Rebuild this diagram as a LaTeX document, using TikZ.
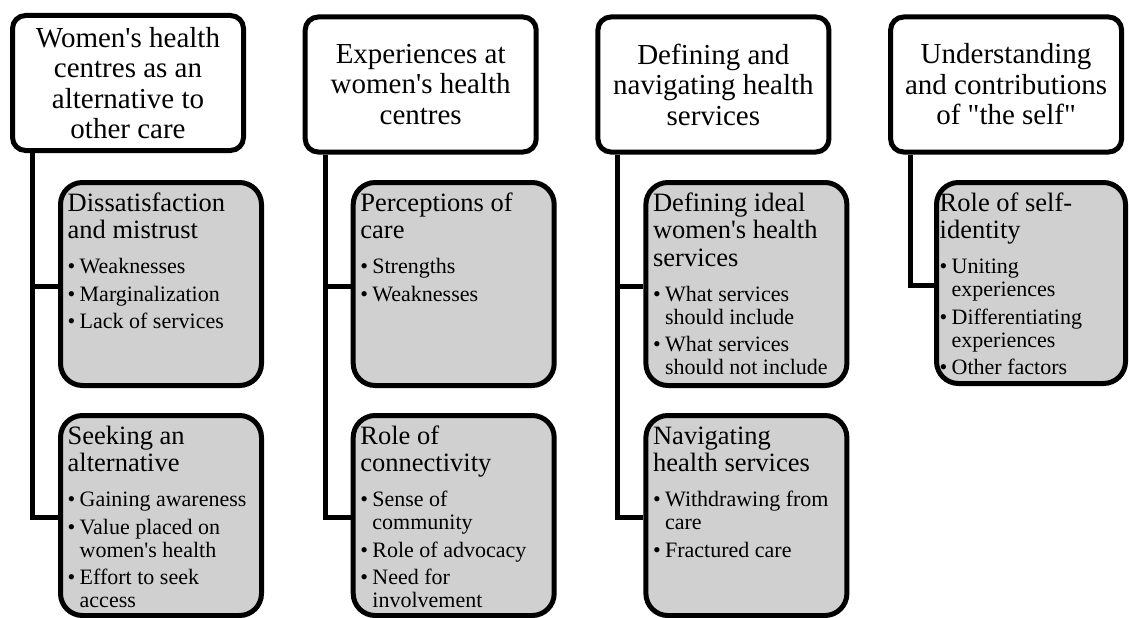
\documentclass[tikz,border=0pt]{standalone}
\usepackage{fontspec}
\setmainfont{Liberation Serif}
\usepackage{xcolor}
\usepackage{tikz}
\usetikzlibrary{calc}
\definecolor{subgray}{RGB}{208,208,208}
\newcommand{\ap}{\textquotesingle}
\newcommand{\qt}{\textquotedbl}
\newcommand{\wsp}{\spaceskip=0pt\relax\xspaceskip=0pt\relax}
\newcommand{\subhead}[1]{{\fontsize{26.5}{27.5}\selectfont\wsp #1\par}\vspace{12pt}}
\newcommand{\itm}[1]{{\fontsize{22}{23}\selectfont\wsp
  \hangindent=12pt\hangafter=1\noindent\makebox[12pt][l]{\textbullet}#1\par}\vspace{4.5pt}}
\tikzset{
  theme/.style = {draw=black, line width=5pt, rounded corners=13pt, fill=white,
    align=center, inner sep=2pt, minimum width=231pt, minimum height=135pt,
    font=\fontsize{29}{30.5}\selectfont},% boite du theme
  subbox/.style = {draw=black, line width=5pt, rounded corners=22pt, fill=subgray,
    minimum width=201pt, minimum height=203pt},% boite grise
  subtxt/.style = {anchor=base west, inner sep=0pt, text width=200pt},% texte de la boite grise
  conn/.style = {draw=black, line width=5pt}% trait
}

\begin{document}
\begin{tikzpicture}[x=1pt, y=-1pt]
\useasboundingbox (0,0) rectangle (1129,618);

\node[theme] (t1) at (128,83) {Women\ap s health\\centres as an\\alternative to\\other care};
\node[theme] (t2) at (420.7,84.5) {Experiences at\\women\ap s health\\centres};
\node[theme] (t3) at (713.4,84.5) {Defining and\\navigating health\\services};
\node[theme] (t4) at (1006.1,84.5) {Understanding\\and contributions\\of \qt the self\qt};

\node[subbox] (t1a) at (161,284) {};
\node[subbox, minimum height=200pt] (t1b) at (161,515.5) {};
\node[subbox] (t2a) at (453.7,284) {};
\node[subbox, minimum height=200pt] (t2b) at (453.7,515.5) {};
\node[subbox] (t3a) at (746.4,284) {};
\node[subbox, minimum height=200pt] (t3b) at (746.4,515.5) {};
\node[subbox, minimum width=189pt, minimum height=201pt] (t4a) at (1031,283) {};

\node[subtxt] (l1a) at ($(t1a.north west)+(9.5,31)$) {\subhead{Dissatisfaction\newline and mistrust}
  \itm{Weaknesses}\itm{Marginalization}\itm{Lack of services}};
\node[subtxt] (l1b) at ($(t1b.north west)+(9.5,31)$) {\subhead{Seeking an\newline alternative}
  \itm{Gaining awareness}\itm{Value placed on\newline women\ap s health}\itm{Effort to seek\newline access}};
\node[subtxt] (l2a) at ($(t2a.north west)+(9.5,31)$) {\subhead{Perceptions of\newline care}
  \itm{Strengths}\itm{Weaknesses}};
\node[subtxt] (l2b) at ($(t2b.north west)+(9.5,31)$) {\subhead{Role of\newline connectivity}
  \itm{Sense of\newline community}\itm{Role of advocacy}\itm{Need for\newline involvement}};
\node[subtxt] (l3a) at ($(t3a.north west)+(9.5,31)$) {\subhead{Defining ideal\newline women\ap s health\newline services}
  \itm{What services\newline should include}\itm{What services\newline should not include}};
\node[subtxt] (l3b) at ($(t3b.north west)+(9.5,31)$) {\subhead{Navigating\newline health services}
  \itm{Withdrawing from\newline care}\itm{Fractured care}};
\node[subtxt] (l4a) at ($(t4a.north west)+(5.5,31)$) {\subhead{Role of self-\newline identity}
  \itm{Uniting\newline experiences}\itm{Differentiating\newline experiences}\itm{Other factors}};

\coordinate (v1) at ($(t1.south west)+(22.5,0)$);
\coordinate (v2) at ($(t2.south west)+(22.5,0)$);
\coordinate (v3) at ($(t3.south west)+(22.5,0)$);
\coordinate (v4) at ($(t4.south west)+(22.5,0)$);
\draw[conn] (v1) |- ($(t1a.west)+(0,2)$);
\draw[conn] (v1) |- ($(t1b.west)+(0,2)$);
\draw[conn] (v2) |- ($(t2a.west)+(0,2)$);
\draw[conn] (v2) |- ($(t2b.west)+(0,2)$);
\draw[conn] (v3) |- ($(t3a.west)+(0,2)$);
\draw[conn] (v3) |- ($(t3b.west)+(0,2)$);
\draw[conn] (v4) |- ($(t4a.west)+(0,2)$);
\end{tikzpicture}
\end{document}
